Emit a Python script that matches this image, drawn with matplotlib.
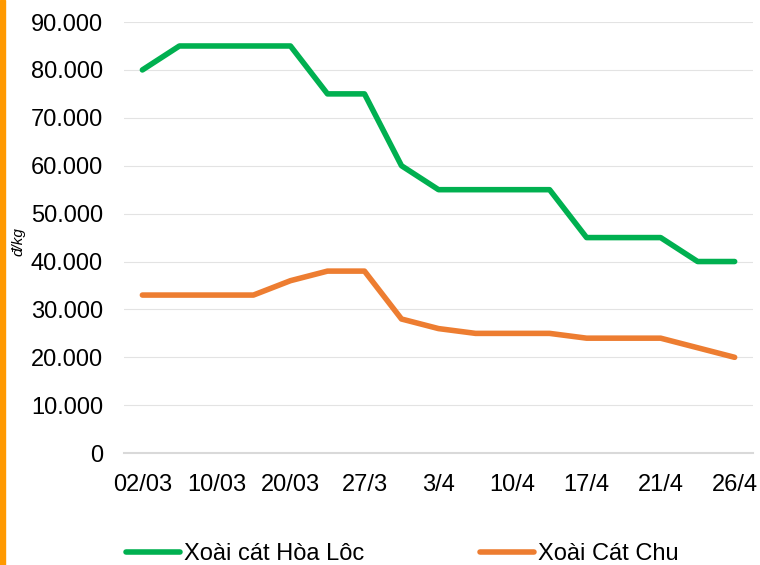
import matplotlib.pyplot as plt
from matplotlib.patches import Rectangle
from matplotlib.ticker import FuncFormatter

plt.rcParams['font.family'] = ['Liberation Sans', 'DejaVu Sans']

# nhãn trục x (chỉ hiện cách một điểm)
ngay = ['02/03', '', '10/03', '', '20/03', '', '27/3', '', '3/4', '',
        '10/4', '', '17/4', '', '21/4', '', '26/4']

# giá xoài, đ/kg
hoa_loc = [80000, 85000, 85000, 85000, 85000, 75000, 75000, 60000, 55000,
           55000, 55000, 55000, 45000, 45000, 45000, 40000, 40000]
cat_chu = [33000, 33000, 33000, 33000, 36000, 38000, 38000, 28000, 26000,
           25000, 25000, 25000, 24000, 24000, 24000, 22000, 20000]

fig = plt.figure(figsize=(7.6, 5.65), dpi=100)
ax = fig.add_axes([0.163, 0.198, 0.828, 0.763])

x = list(range(len(ngay)))
ax.plot(x, hoa_loc, color='#00B050', linewidth=4, label='Xoài cát Hòa Lôc',
        solid_capstyle='round')
ax.plot(x, cat_chu, color='#ED7D31', linewidth=4, label='Xoài Cát Chu',
        solid_capstyle='round')

ax.set_xlim(-0.5, len(ngay) - 0.5)
ax.set_ylim(0, 90000)
ax.set_yticks(range(0, 90001, 10000))
ax.yaxis.set_major_formatter(FuncFormatter(lambda v, p: f'{v:,.0f}'.replace(',', '.')))
ax.set_xticks(x)
ax.set_xticklabels(ngay)
ax.tick_params(axis='both', length=0, labelsize=17, colors='black')
ax.tick_params(axis='y', pad=15)
ax.tick_params(axis='x', pad=15)

ax.grid(axis='y', color='#E3E3E3', linewidth=0.8)
ax.set_axisbelow(True)
for s in ['top', 'right', 'left']:
    ax.spines[s].set_visible(False)
ax.spines['bottom'].set_color('#D9D9D9')
ax.spines['bottom'].set_linewidth(1.5)

fig.text(18 / 760, 1 - 242 / 565, 'đ/kg', rotation=90, style='italic',
         fontsize=11, ha='center', va='center')

# vạch cam bên trái
fig.patches.append(Rectangle((0, 0), 5 / 760, 1, transform=fig.transFigure,
                             color='#FF9900', zorder=0))

fig.legend(loc='lower left', bbox_to_anchor=(126 / 760, 0.0), ncol=2,
           frameon=False, fontsize=17, handlelength=2.3, handletextpad=0.15,
           columnspacing=4.9, borderpad=0, borderaxespad=0)

fig.savefig('out.png', dpi=100)
